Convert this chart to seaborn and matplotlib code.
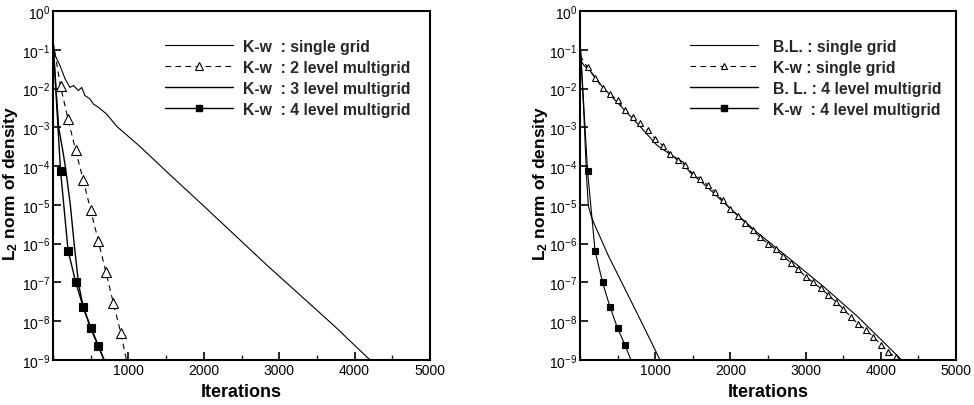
import matplotlib
matplotlib.use("Agg")
import matplotlib.pyplot as plt
from matplotlib import font_manager as fm
from matplotlib.lines import Line2D
from matplotlib.ticker import FixedLocator, FixedFormatter, MultipleLocator, NullLocator
import pandas as pd
import seaborn as sns

# ---------------- data ----------------
# Left panel: K-w model
kw_single_it = [0, 30, 93, 159, 225, 270, 336, 380, 424, 490, 535, 600, 711, 848,
                1154, 1510, 2040, 2836, 3720, 4205]
kw_single_val = [1.6e-1, 7.1e-2, 3.9e-2, 1.8e-2, 1.07e-2, 1.2e-2, 8.9e-3, 1.07e-2, 6.6e-3,
                 5.4e-3, 4.0e-3, 3.3e-3, 2.2e-3, 1.05e-3, 3.2e-4, 7.1e-5, 7.9e-6, 2.8e-7,
                 7.9e-9, 1.0e-9]

kw_mg2_it = [0, 100, 200, 300, 400, 500, 600, 700, 800, 900, 975]
kw_mg2_val = [1.6e-1, 1.15e-2, 1.6e-3, 2.6e-4, 4.4e-5, 7.4e-6, 1.2e-6, 1.9e-7, 3.0e-8,
              4.9e-9, 1.0e-9]

kw_mg3_it = [0, 40, 75, 120, 163, 230, 283, 340, 400, 500, 600, 675]
kw_mg3_val = [1.6e-1, 1.0e-2, 1.0e-3, 3.2e-4, 1.0e-4, 1.0e-5, 8.9e-7, 8.9e-8, 2.4e-8,
              6.9e-9, 2.4e-9, 1.0e-9]

kw_mg4_it = [0, 100, 200, 300, 400, 500, 600, 680]
kw_mg4_val = [1.6e-1, 7.6e-5, 6.6e-7, 1.05e-7, 2.3e-8, 6.6e-9, 2.3e-9, 1.0e-9]

# Right panel: B.L. vs K-w
bl_single_it = [0, 20, 50, 133, 300, 576, 800, 1020, 1200, 1374, 1420, 1463, 1700, 1906,
                2349, 2793, 3236, 3680, 4000, 4278]
bl_single_val = [7.1e-2, 5.0e-2, 4.0e-2, 2.9e-2, 1.1e-2, 3.0e-3, 1.05e-3, 3.5e-4, 2.0e-4,
                 1.26e-4, 8.9e-5, 6.9e-5, 2.8e-5, 1.17e-5, 2.0e-6, 4.0e-7, 7.9e-8, 1.38e-8,
                 3.4e-9, 1.0e-9]

kw_single_r_it = [0, 100, 200, 300, 400, 500, 600, 700, 800, 900, 1000, 1100, 1200, 1300,
                  1400, 1500, 1600, 1700, 1800, 1900, 2000, 2100, 2200, 2300, 2400, 2500,
                  2600, 2700, 2800, 2900, 3000, 3100, 3200, 3300, 3400, 3500, 3600, 3700,
                  3800, 3900, 4000, 4100, 4200, 4250]
kw_single_r_val = [7.1e-2, 3.5e-2, 1.9e-2, 1.05e-2, 7.1e-3, 5.0e-3, 2.8e-3, 1.9e-3,
                   1.26e-3, 8.5e-4, 5.0e-4, 3.4e-4, 2.1e-4, 1.4e-4, 1.05e-4, 6.3e-5,
                   4.7e-5, 3.2e-5, 2.1e-5, 1.3e-5, 7.9e-6, 5.2e-6, 3.5e-6, 2.2e-6,
                   1.45e-6, 1.0e-6, 7.2e-7, 4.9e-7, 3.2e-7, 2.2e-7, 1.4e-7, 1.0e-7,
                   7.1e-8, 4.8e-8, 3.2e-8, 2.1e-8, 1.3e-8, 8.5e-9, 6.0e-9, 4.0e-9,
                   2.5e-9, 1.6e-9, 1.2e-9, 1.0e-9]

bl_mg4_it = [0, 50, 89, 111, 150, 200, 377, 598, 820, 1064]
bl_mg4_val = [1.8e-1, 2.5e-3, 4.7e-5, 9.5e-6, 5.0e-6, 2.9e-6, 4.9e-7, 6.8e-8, 9.3e-9, 1.0e-9]

kw_mg4_r_it = [0, 100, 200, 300, 400, 500, 600, 678]
kw_mg4_r_val = [1.8e-1, 7.6e-5, 6.6e-7, 1.0e-7, 2.3e-8, 6.6e-9, 2.4e-9, 1.0e-9]

left_labels = ["K-w  : single grid", "K-w  : 2 level multigrid",
               "K-w  : 3 level multigrid", "K-w  : 4 level multigrid"]
right_labels = ["B.L. : single grid", "K-w : single grid",
                "B. L. : 4 level multigrid", "K-w  : 4 level multigrid"]

x_ticks = [1000, 2000, 3000, 4000, 5000]
y_ticks = [1e0, 1e-1, 1e-2, 1e-3, 1e-4, 1e-5, 1e-6, 1e-7, 1e-8, 1e-9]
y_tick_labels = ["$10^{0}$", "$10^{-1}$", "$10^{-2}$", "$10^{-3}$", "$10^{-4}$",
                 "$10^{-5}$", "$10^{-6}$", "$10^{-7}$", "$10^{-8}$", "$10^{-9}$"]

# ---------------- style ----------------
def has_font(name):
    try:
        fm.findfont(fm.FontProperties(family=name), fallback_to_default=False)
        return True
    except Exception:
        return False

FONT = "Liberation Sans Narrow" if has_font("Liberation Sans Narrow") else "Liberation Sans"

sns.set_theme(style="white")
plt.rcParams["font.family"] = [FONT, "DejaVu Sans"]
plt.rcParams["mathtext.fontset"] = "custom"
plt.rcParams["mathtext.rm"] = FONT
plt.rcParams["mathtext.it"] = FONT
plt.rcParams["mathtext.bf"] = FONT + ":bold"

LW = 0.8
fig = plt.figure(figsize=(9.74, 4.06), dpi=100)
W, H = 974, 406
axL = fig.add_axes([53 / W, 1 - 361 / H, 377 / W, 349 / H])
axR = fig.add_axes([580 / W, 1 - 361 / H, 376 / W, 349 / H])


def line(ax, xs, ys, ls="-", marker=None, ms=5, mfc="black", lw=LW):
    df = pd.DataFrame({"x": xs, "y": ys})
    sns.lineplot(data=df, x="x", y="y", ax=ax, color="black", linewidth=lw,
                 linestyle=ls, estimator=None, sort=False, legend=False)
    if marker is not None:
        dm = df.iloc[1:-1]
        ax.plot(dm["x"], dm["y"], linestyle="none", marker=marker, markersize=ms,
                markerfacecolor=mfc, markeredgecolor="black", markeredgewidth=0.8)


DASH = (0, (5, 4))
# Left panel
line(axL, kw_single_it, kw_single_val)
line(axL, kw_mg2_it, kw_mg2_val, ls=DASH, marker="^", ms=7, mfc="white")
line(axL, kw_mg3_it, kw_mg3_val, lw=1.0)
line(axL, kw_mg4_it, kw_mg4_val, marker="s", ms=5.5, mfc="black", lw=1.0)
# Right panel
line(axR, bl_single_it, bl_single_val)
line(axR, kw_single_r_it, kw_single_r_val, ls=DASH, marker="^", ms=5, mfc="white")
line(axR, bl_mg4_it, bl_mg4_val)
line(axR, kw_mg4_r_it, kw_mg4_r_val, marker="s", ms=4.5, mfc="black")


def handles(ms_tri, ms_sq):
    return [
        Line2D([], [], color="black", lw=LW),
        Line2D([], [], color="black", lw=LW, ls=DASH, marker="^", ms=ms_tri,
               mfc="white", mec="black", mew=0.8),
        Line2D([], [], color="black", lw=1.0),
        Line2D([], [], color="black", lw=1.0, marker="s", ms=ms_sq, mfc="black", mec="black"),
    ]


LEG_FS = 11.3
for ax, labels, hs, lx, pad in [
    (axL, left_labels, handles(6, 5), (165 - 53) / 377, 0.64),
    (axR, right_labels, handles(5, 4.5), (690 - 580) / 376, 0.95),
]:
    ax.set_yscale("log")
    ax.set_xlim(0, 5000)
    ax.set_ylim(1e-9, 1e0)
    ax.xaxis.set_major_locator(FixedLocator(x_ticks))
    ax.xaxis.set_major_formatter(FixedFormatter([str(t) for t in x_ticks]))
    ax.xaxis.set_minor_locator(MultipleLocator(500))
    ax.yaxis.set_major_locator(FixedLocator(y_ticks))
    ax.yaxis.set_major_formatter(FixedFormatter(y_tick_labels))
    ax.yaxis.set_minor_locator(NullLocator())
    ax.tick_params(axis="both", which="major", direction="in", length=6, width=1.2,
                   labelsize=10, pad=2, colors="black", bottom=True, left=True)
    ax.tick_params(axis="x", which="minor", direction="in", length=3.5, width=1.0,
                   bottom=True)
    for s in ax.spines.values():
        s.set_color("black")
        s.set_linewidth(1.5)
    ax.set_xlabel("Iterations", fontsize=13, fontweight="bold", color="black")
    ax.set_ylabel("L$_\\mathbf{2}$ norm of density", fontsize=12.5, fontweight="bold",
                  color="black")
    ax.xaxis.set_label_coords(0.5, -0.065)
    ax.grid(False)
    ax.legend(hs, labels, loc="upper left", bbox_to_anchor=(lx, 0.92), frameon=False,
              borderpad=0, borderaxespad=0, handlelength=4.33, handletextpad=pad,
              labelspacing=0.38, numpoints=1,
              prop={"family": [FONT, "DejaVu Sans"], "weight": "bold", "size": LEG_FS})

axL.yaxis.set_label_coords(-0.088, 0.51)
axR.yaxis.set_label_coords(-0.08, 0.51)

fig.savefig("out.png", dpi=100, facecolor="white")
